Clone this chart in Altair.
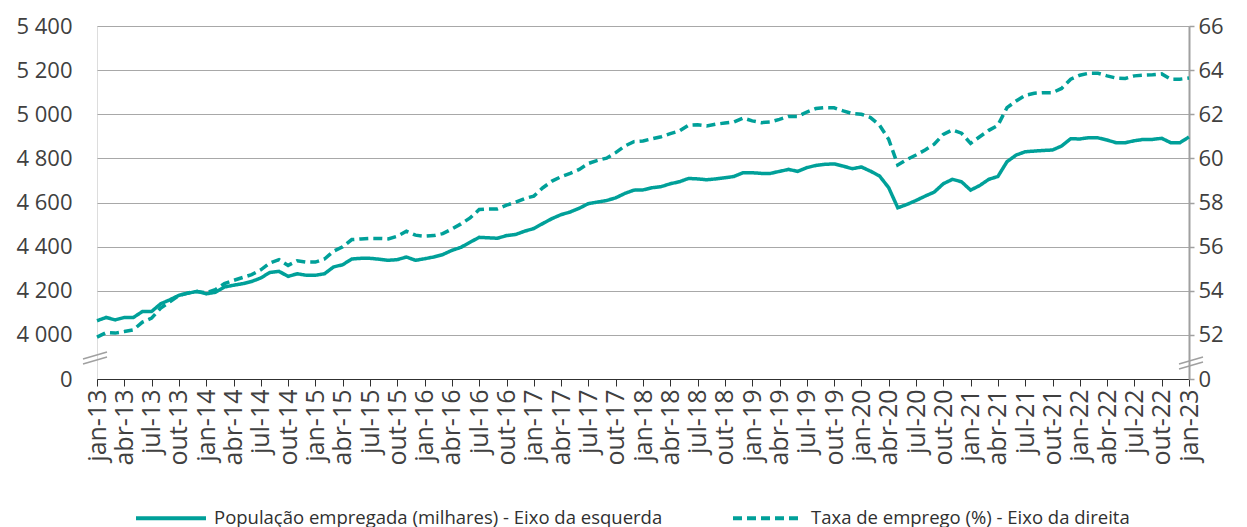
import altair as alt
import pandas as pd

month_names = ["jan", "fev", "mar", "abr", "mai", "jun", "jul", "ago", "set", "out", "nov", "dez"]
months = [f"{month_names[i % 12]}-{13 + i // 12}" for i in range(121)]

populacao = [
    4064, 4079, 4068, 4079, 4079, 4106, 4106, 4141, 4159, 4179, 4189, 4197,
    4186, 4193, 4217, 4225, 4232, 4242, 4258, 4283, 4288, 4265, 4277, 4270,
    4270, 4277, 4308, 4318, 4344, 4347, 4347, 4343, 4338, 4341, 4353, 4338,
    4345, 4353, 4364, 4383, 4397, 4420, 4442, 4440, 4438, 4450, 4455, 4470,
    4482, 4505, 4527, 4545, 4557, 4574, 4595, 4602, 4609, 4621, 4641, 4656,
    4657, 4667, 4672, 4685, 4694, 4709, 4707, 4703, 4707, 4712, 4718, 4735,
    4735, 4732, 4732, 4741, 4750, 4741, 4758, 4768, 4773, 4775, 4765, 4753,
    4761, 4742, 4720, 4667, 4576, 4591, 4609, 4629, 4647, 4685, 4705, 4694,
    4656, 4677, 4705, 4718, 4785, 4815, 4830, 4833, 4836, 4838, 4856, 4889,
    4888, 4894, 4893, 4883, 4871, 4871, 4880, 4886, 4886, 4891, 4871, 4871,
    4897,
]

taxa = [
    51.90, 52.10, 52.08, 52.15, 52.23, 52.58, 52.76, 53.21, 53.50, 53.79, 53.90, 53.97,
    53.90, 54.05, 54.32, 54.47, 54.60, 54.73, 54.95, 55.26, 55.41, 55.15, 55.36, 55.30,
    55.30, 55.44, 55.79, 55.99, 56.32, 56.35, 56.37, 56.37, 56.35, 56.47, 56.70, 56.52,
    56.47, 56.50, 56.59, 56.80, 57.03, 57.30, 57.68, 57.71, 57.71, 57.88, 58.01, 58.18,
    58.29, 58.67, 58.97, 59.17, 59.32, 59.50, 59.77, 59.91, 60.01, 60.26, 60.56, 60.76,
    60.79, 60.89, 60.98, 61.12, 61.24, 61.50, 61.52, 61.47, 61.55, 61.60, 61.65, 61.83,
    61.70, 61.62, 61.65, 61.77, 61.90, 61.90, 62.10, 62.26, 62.30, 62.29, 62.15, 62.03,
    62.00, 61.85, 61.50, 60.86, 59.70, 59.95, 60.15, 60.38, 60.64, 61.09, 61.29, 61.14,
    60.68, 60.98, 61.27, 61.50, 62.30, 62.60, 62.86, 62.95, 62.98, 62.98, 63.17, 63.59,
    63.77, 63.86, 63.86, 63.74, 63.64, 63.62, 63.74, 63.77, 63.79, 63.83, 63.59, 63.59,
    63.64,
]

serie_pop = "População empregada (milhares) - Eixo da esquerda"
serie_taxa = "Taxa de emprego (%) - Eixo da direita"

left_ticks = [3800, 4000, 4200, 4400, 4600, 4800, 5000, 5200, 5400]
right_ticks = [50, 52, 54, 56, 58, 60, 62, 64, 66]
x_labels = months[::3]

df = pd.concat([
    pd.DataFrame({"mes": months, "valor": populacao, "serie": serie_pop}),
    pd.DataFrame({"mes": months, "valor": taxa, "serie": serie_taxa}),
])

TEAL = "#00a099"
FONT = "Open Sans"
LABEL_COLOR = "#404040"

x_enc = alt.X(
    "mes:O",
    sort=months,
    scale=alt.Scale(type="point", padding=0),
    axis=alt.Axis(
        title=None, values=x_labels, labelAngle=270, labelFontSize=25,
        labelColor=LABEL_COLOR, labelFont=FONT, domainColor="#303030",
        tickColor="#303030", tickSize=7, labelPadding=3, grid=False,
    ),
)

legend_cfg = dict(
    title=None, orient="none", legendX=37, legendY=455, direction="horizontal",
    symbolType="stroke", symbolSize=4900, symbolStrokeWidth=4,
    labelFontSize=18.5, labelFont=FONT, labelColor="#303030",
    columnPadding=62, labelOffset=6, labelLimit=700,
)

color_enc = alt.Color(
    "serie:N",
    scale=alt.Scale(domain=[serie_pop, serie_taxa], range=[TEAL, TEAL]),
    legend=alt.Legend(**legend_cfg),
)
dash_enc = alt.StrokeDash(
    "serie:N",
    scale=alt.Scale(domain=[serie_pop, serie_taxa], range=[[1, 0], [9, 5]]),
    legend=alt.Legend(**legend_cfg),
)

pop_line = alt.Chart(df).transform_filter(
    alt.datum.serie == serie_pop
).mark_line(strokeWidth=3.5).encode(
    x=x_enc,
    y=alt.Y(
        "valor:Q",
        scale=alt.Scale(domain=[3800, 5400], nice=False, zero=False),
        axis=alt.Axis(
            title=None, values=left_ticks, orient="left",
            labelExpr="datum.value == 3800 ? '0' : replace(format(datum.value, ','), ',', ' ')",
            labelFontSize=22, labelFont=FONT, labelColor=LABEL_COLOR,
            domain=False, ticks=False, labelPadding=25,
            grid=True, gridColor="#a8a8a8", gridWidth=1.2,
        ),
    ),
    color=color_enc,
    strokeDash=dash_enc,
)

taxa_line = alt.Chart(df).transform_filter(
    alt.datum.serie == serie_taxa
).mark_line(strokeWidth=3.5).encode(
    x=x_enc,
    y=alt.Y(
        "valor:Q",
        scale=alt.Scale(domain=[50, 66], nice=False, zero=False),
        axis=alt.Axis(
            title=None, values=right_ticks, orient="right",
            labelExpr="datum.value == 50 ? '0' : format(datum.value, 'd')",
            labelFontSize=22, labelFont=FONT, labelColor=LABEL_COLOR,
            domain=True, domainColor="#a0a0a0", domainWidth=2,
            ticks=True, tickColor="#a0a0a0", tickSize=5, tickWidth=1.5,
            labelPadding=4, grid=False,
        ),
    ),
    color=color_enc,
    strokeDash=dash_enc,
)

brk = alt.Data(values=[{"k": 0}])
break_marks = alt.layer(
    alt.Chart(brk).mark_rule(color="#a0a0a0", strokeWidth=1.5).encode(
        x=alt.value(-14), x2=alt.value(10), y=alt.value(338), y2=alt.value(331)),
    alt.Chart(brk).mark_rule(color="#a0a0a0", strokeWidth=1.5).encode(
        x=alt.value(-14), x2=alt.value(10), y=alt.value(333), y2=alt.value(326)),
    alt.Chart(brk).mark_rule(color="#a0a0a0", strokeWidth=1.5).encode(
        x=alt.value(1082), x2=alt.value(1106), y=alt.value(338), y2=alt.value(331)),
    alt.Chart(brk).mark_rule(color="#a0a0a0", strokeWidth=1.5).encode(
        x=alt.value(1082), x2=alt.value(1106), y=alt.value(343), y2=alt.value(336)),
)

chart = alt.layer(pop_line, taxa_line, break_marks).resolve_scale(
    y="independent"
).properties(
    width=1092, height=353,
    autosize=alt.AutoSizeParams(type="none"),
    padding={"left": 89, "top": 18, "right": 50, "bottom": 160},
).configure_view(stroke=None).configure(font=FONT)

chart.save("out.html", embed_options={"renderer": "svg", "actions": False})
